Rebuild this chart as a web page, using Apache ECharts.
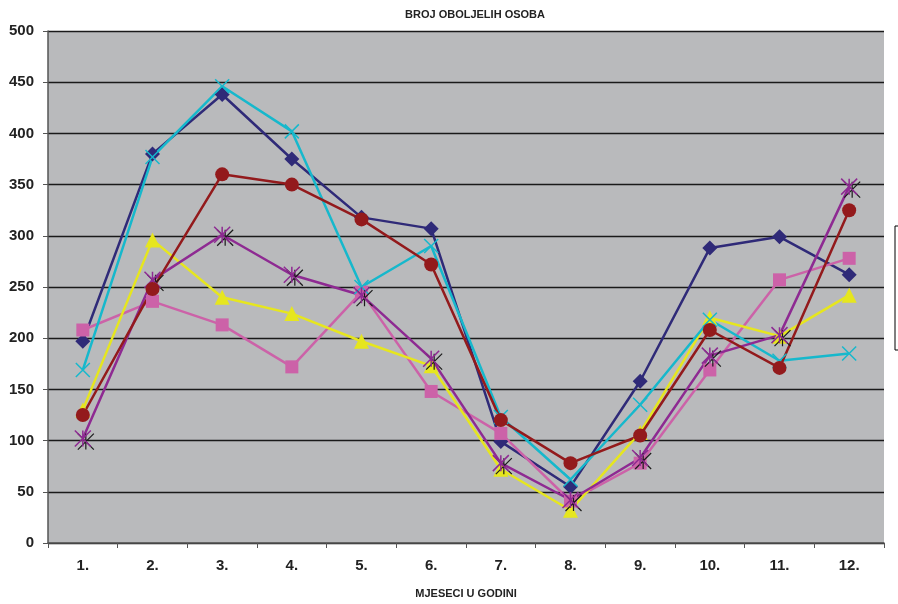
<!DOCTYPE html>
<html><head><meta charset="utf-8">
<script src="https://cdn.jsdelivr.net/npm/echarts@6/dist/echarts.min.js"></script>
<style>html,body{margin:0;padding:0;background:#fff}#c{width:898px;height:604px}</style>
</head><body><div id="c"></div>
<script>
const months = ['1.','2.','3.','4.','5.','6.','7.','8.','9.','10.','11.','12.'];
const navy   = [197,380,438,375,318,307,99,55,158,288,299,262];
const pink   = [208,236,213,172,245,148,107,41,78,169,257,278];
const yellow = [130,296,240,224,197,173,72,32,108,220,202,242];
const cyan   = [169,377,446,402,250,290,123,62,135,218,178,185];
const purple = [102,257,301,262,242,180,78,42,83,183,203,348];
const red    = [125,248,360,350,316,272,120,78,105,208,171,325];
const yTicks = [0,50,100,150,200,250,300,350,400,450,500];

const F = 'Liberation Sans, Arial, sans-serif';
const STAR = 'path://M0,0L10,10M10,0L0,10M5,0L5,10';
function s(name, data, color, symbol, size, extra) {
  return Object.assign({
    type:'line', name, data, symbol, symbolSize:size,
    lineStyle:{color, width:2.5}, itemStyle:{color}, z:2
  }, extra||{});
}
const chart = echarts.init(document.getElementById('c'));
chart.setOption({
  animation:false,
  backgroundColor:'#fff',
  title:{text:'BROJ OBOLJELIH OSOBA', left:470, top:4, textAlign:'center',
    textStyle:{fontFamily:F, fontSize:11, fontWeight:'bold', color:'#222'}},
  grid:{left:48, right:14, top:31, bottom:60, show:true, backgroundColor:'#b9babc', borderWidth:0},
  xAxis:{type:'category', data:months, boundaryGap:true,
    name:'MJESECI U GODINI', nameLocation:'middle', nameGap:45,
    nameTextStyle:{fontFamily:F, fontSize:11, fontWeight:'bold', color:'#222'},
    axisLine:{lineStyle:{color:'#555', width:1.5}},
    axisTick:{show:true, length:5, lineStyle:{color:'#555'}},
    axisLabel:{fontFamily:F, fontSize:15, fontWeight:'bold', color:'#222', margin:15}},
  yAxis:{type:'value', min:0, max:500, interval:50,
    axisLine:{show:true, lineStyle:{color:'#555', width:1.5}},
    axisTick:{show:true, length:5, lineStyle:{color:'#555'}},
    axisLabel:{fontFamily:F, fontSize:15, fontWeight:'bold', color:'#222', margin:14,
      formatter:v=>yTicks.includes(v)?String(v):''},
    splitLine:{lineStyle:{color:'#1a1a1a', width:1.3}}},
  graphic:[{type:'rect', shape:{x:895, y:226, width:30, height:124},
    style:{fill:'#fff', stroke:'#000', lineWidth:1}}],
  series:[
    s('navy', navy, '#2f2a78', 'diamond', 15),
    s('pink', pink, '#cc62a8', 'rect', 13),
    s('yellow', yellow, '#e6e61e', 'triangle', 15),
    s('cyan', cyan, '#16b8cc', 'path://M0,0L10,10M10,0L0,10', 14,
      {itemStyle:{color:'#16b8cc', borderColor:'#16b8cc', borderWidth:1.5}}),
    s('purpleShadow', purple, '#1a1a1a', STAR, 16,
      {lineStyle:{width:0, opacity:0}, symbolOffset:[3,3], z:2,
       itemStyle:{color:'#1a1a1a', borderColor:'#1a1a1a', borderWidth:1.2}}),
    s('purple', purple, '#8e2a92', STAR, 16,
      {itemStyle:{color:'#8e2a92', borderColor:'#8e2a92', borderWidth:1.5}}),
    s('red', red, '#931a1c', 'circle', 14)
  ]
});
</script></body></html>
